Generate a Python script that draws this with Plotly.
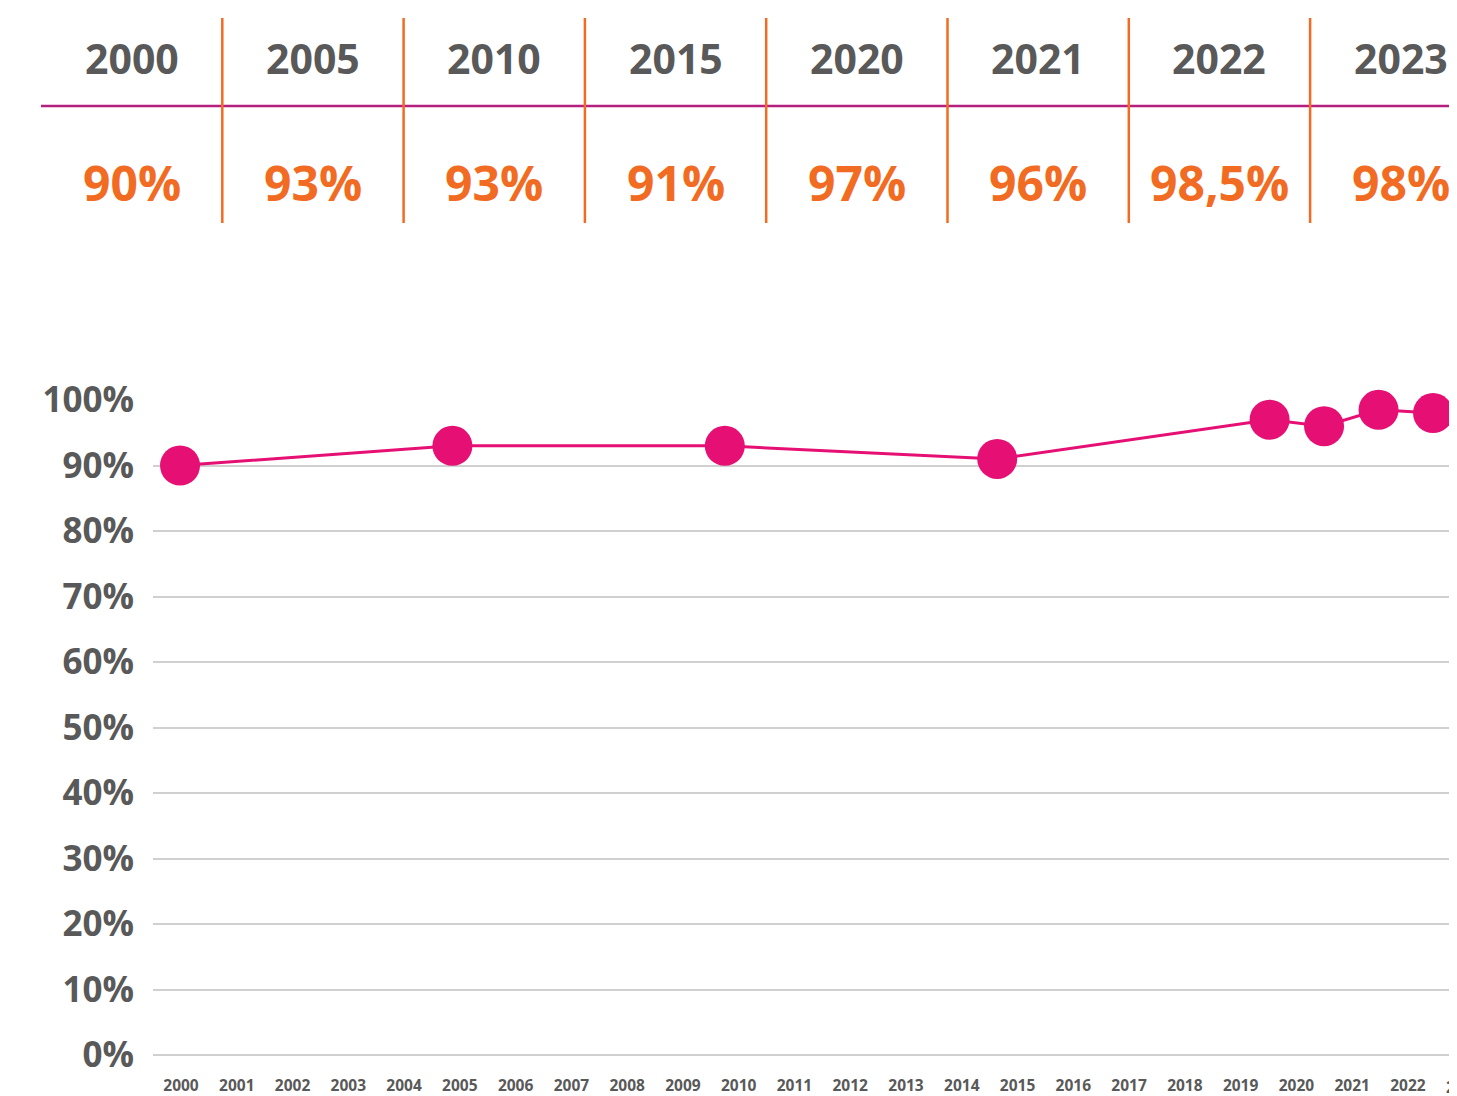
import plotly.graph_objects as go

# ---- data ----
years = [2000, 2005, 2010, 2015, 2020, 2021, 2022, 2023]
values = [0.90, 0.93, 0.93, 0.91, 0.97, 0.96, 0.985, 0.98]
table_labels = ["90%", "93%", "93%", "91%", "97%", "96%", "98,5%", "98%"]
axis_years = list(range(2000, 2024))

# ---- style ----
OFF = 8  # page body margin
W, H = 1457 - OFF, 1096 - OFF
L, R = 153 - OFF, 0
T = 400 - OFF
B = H - (1055 - OFF)
GRAY = "#595959"
ORANGE = "#F26B22"
PURPLE = "#B51F80"
PINK = "#E60F74"
GRID = "#D0D0D0"
FONT = "Open Sans"

pw = W - L - R
ph = H - T - B


def px(xp):
    return (xp - OFF - L) / pw


def py(yp):
    return (H - B - (yp - OFF)) / ph


label_range = [1999.498, 2022.88]
point_range = [1999.504, 2023.44]

fig = go.Figure()
# invisible trace so the category-label axis is drawn
fig.add_trace(go.Scatter(
    x=axis_years, y=[None] * len(axis_years), xaxis="x", yaxis="y",
    mode="markers", showlegend=False, hoverinfo="skip",
))
fig.add_trace(go.Scatter(
    x=years, y=values, xaxis="x2", yaxis="y",
    mode="lines+markers",
    line=dict(color=PINK, width=3),
    marker=dict(color=PINK, size=40),
    cliponaxis=False, showlegend=False, hoverinfo="skip",
))

shapes = []
annotations = []

# table
col0, colw = 41, 181.3
for i, (yr, lab) in enumerate(zip(years, table_labels)):
    cx = col0 + colw * (i + 0.5)
    annotations.append(dict(text=str(yr), x=px(cx), y=py(58), xref="paper", yref="paper",
                            xanchor="center", yanchor="middle", showarrow=False,
                            font=dict(family=FONT, size=41, color=GRAY, weight="bold")))
    annotations.append(dict(text=lab, x=px(cx), y=py(182), xref="paper", yref="paper",
                            xanchor="center", yanchor="middle", showarrow=False,
                            font=dict(family=FONT, size=48, color=ORANGE, weight="bold")))
    if i > 0:
        sx = col0 + colw * i
        shapes.append(dict(type="line", xref="paper", yref="paper",
                           x0=px(sx), x1=px(sx), y0=py(18), y1=py(223),
                           line=dict(color=ORANGE, width=2.5), layer="above"))
shapes.append(dict(type="line", xref="paper", yref="paper",
                   x0=px(41), x1=px(1460), y0=py(106), y1=py(106),
                   line=dict(color=PURPLE, width=2.5), layer="below"))

# clipped last x label
annotations.append(dict(text="2023",
                        x=(2023 - label_range[0]) / (label_range[1] - label_range[0]),
                        y=py(1087), xref="paper", yref="paper",
                        xanchor="center", yanchor="middle", showarrow=False,
                        font=dict(family=FONT, size=15.5, color=GRAY, weight="bold")))

fig.update_layout(
    width=W, height=H,
    margin=dict(l=L, r=R, t=T, b=B, pad=0, autoexpand=False),
    paper_bgcolor="white", plot_bgcolor="white",
    shapes=shapes, annotations=annotations,
    xaxis=dict(range=label_range, tickvals=axis_years, ticktext=[str(y) for y in axis_years],
               showgrid=False, zeroline=False, showline=False, ticks="",
               ticklabelstandoff=19, automargin=False,
               tickfont=dict(family=FONT, size=15.5, color=GRAY, weight="bold")),
    xaxis2=dict(range=point_range, overlaying="x", visible=False),
    yaxis=dict(range=[0, 1], dtick=0.1, tickformat=".0%",
               showgrid=True, gridcolor=GRID, gridwidth=2,
               zeroline=True, zerolinecolor=GRID, zerolinewidth=2,
               showline=False, ticks="", ticklabelstandoff=18, automargin=False,
               tickfont=dict(family=FONT, size=35, color=GRAY, weight="bold")),
)

fig.write_html("out.html")
